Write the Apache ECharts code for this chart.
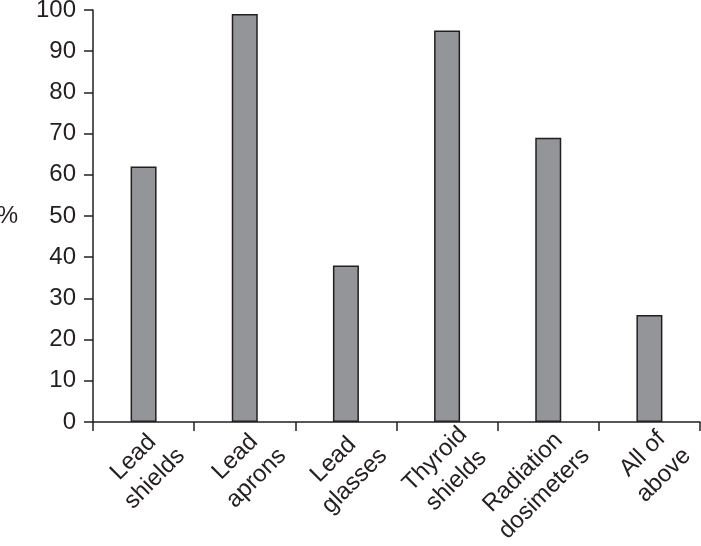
<!DOCTYPE html>
<html>
<head>
<meta charset="utf-8">
<script src="https://cdn.jsdelivr.net/npm/echarts@6/dist/echarts.min.js"></script>
<style>
  html, body { margin: 0; padding: 0; background: #fff; }
  #chart { width: 701px; height: 546px; }
</style>
</head>
<body>
<div id="chart"></div>
<script>
// categories and values
var categories = ['Lead\nshields', 'Lead\naprons', 'Lead\nglasses', 'Thyroid\nshields', 'Radiation\ndosimeters', 'All of\nabove'];
var percents = [62, 99, 38, 95, 69, 26];
var yTicks = { min: 0, max: 100, interval: 10 };

var ink = '#231f20';
var myChart = echarts.init(document.getElementById('chart'));

var option = {
  animation: false,
  backgroundColor: '#ffffff',
  textStyle: { fontFamily: 'Liberation Sans, Arial, sans-serif' },
  grid: {
    left: 93,
    right: 1,
    top: 10,
    bottom: 124,
    outerBoundsMode: 'none'
  },
  xAxis: {
    type: 'category',
    data: categories,
    axisLine: { lineStyle: { color: ink, width: 1.5 } },
    axisTick: { show: true, length: 9, lineStyle: { color: ink, width: 1.5 } },
    axisLabel: {
      rotate: 45,
      margin: 4,
      align: 'right',
      verticalAlign: 'top',
      padding: [0, -8, 0, 0],
      color: ink,
      fontSize: 24,
      lineHeight: 30,
      interval: 0,
      // each line centred inside the label block, like the original
      formatter: function (v) {
        return v.split('\n').map(function (s) { return '{c|' + s + '}'; }).join('\n');
      },
      rich: {
        c: { align: 'center', fontSize: 24, lineHeight: 30, color: ink }
      }
    }
  },
  yAxis: {
    type: 'value',
    min: yTicks.min,
    max: yTicks.max,
    interval: yTicks.interval,
    name: '%',
    nameLocation: 'middle',
    nameRotate: 0,
    nameGap: 75,
    nameTextStyle: { color: ink, fontSize: 24 },
    axisLine: { show: true, lineStyle: { color: ink, width: 1.5 } },
    axisTick: { show: true, length: 9, lineStyle: { color: ink, width: 1.5 } },
    axisLabel: { color: ink, fontSize: 24, margin: 17 },
    splitLine: { show: false }
  },
  series: [
    {
      name: '%',
      type: 'bar',
      data: percents,
      barWidth: 26,
      itemStyle: {
        color: '#939598',
        borderColor: ink,
        borderWidth: 1.5
      }
    }
  ]
};

myChart.setOption(option);
</script>
</body>
</html>
